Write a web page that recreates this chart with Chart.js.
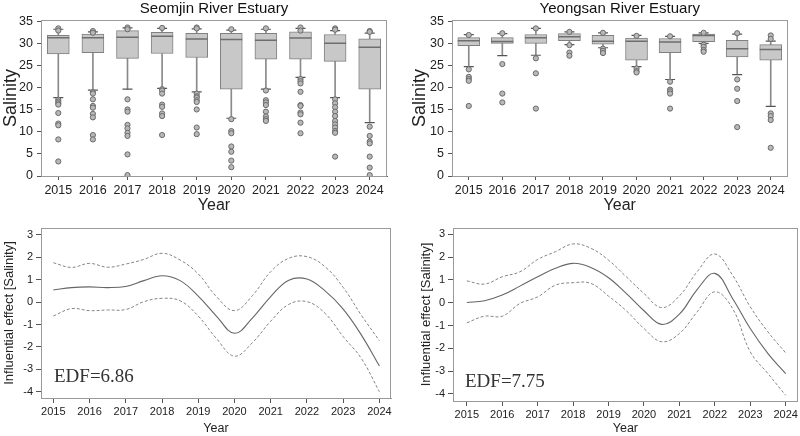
<!DOCTYPE html>
<html>
<head>
<meta charset="utf-8">
<script src="https://cdn.jsdelivr.net/npm/chart.js@4.4.1/dist/chart.umd.min.js"></script>
<style>
  body { margin: 0; background: #fff; width: 800px; height: 436px; overflow: hidden; }
  .panel { position: absolute; }
</style>
</head>
<body>
<div class="panel" style="left:0;top:0;width:400px;height:215px"><canvas id="sjBox"></canvas></div>
<div class="panel" style="left:400px;top:0;width:400px;height:215px"><canvas id="ysBox"></canvas></div>
<div class="panel" style="left:0;top:215px;width:400px;height:221px"><canvas id="sjGam"></canvas></div>
<div class="panel" style="left:400px;top:215px;width:400px;height:221px"><canvas id="ysGam"></canvas></div>
<script>
const years = ["2015", "2016", "2017", "2018", "2019", "2020", "2021", "2022", "2023", "2024"];

// Seomjin box plot stats (salinity)
const sjLow = [17.8, 19.5, 19.7, 19.9, 19.1, 13.1, 19.7, 22.4, 17.8, 12.1];
const sjQ1 = [27.7, 28.0, 26.7, 27.8, 26.9, 19.7, 26.5, 26.5, 26.0, 19.7];
const sjMed = [31.4, 31.4, 31.5, 31.7, 31.1, 31.0, 30.8, 31.3, 30.1, 29.2];
const sjQ3 = [31.9, 32.2, 33.0, 32.6, 32.4, 32.4, 32.4, 32.7, 32.1, 31.1];
const sjHigh = [33.3, 32.7, 33.6, 33.5, 33.4, 33.1, 33.3, 33.5, 33.0, 32.4];
const sjOut = [
  [33.5, 33.0, 17.3, 16.9, 16.5, 16.2, 14.3, 11.9, 11.5, 8.3, 3.3],
  [32.9, 32.5, 19.0, 18.7, 17.4, 15.9, 15.5, 14.1, 13.3, 9.3, 8.3],
  [33.7, 33.3, 17.4, 15.1, 14.6, 11.6, 10.8, 9.8, 9.1, 4.9, 0.2],
  [33.6, 19.7, 19.4, 18.7, 16.2, 15.7, 14.2, 13.6, 9.3],
  [33.7, 33.5, 18.7, 18.1, 17.8, 17.2, 16.8, 15.1, 11.0, 9.5],
  [33.3, 12.9, 10.2, 9.7, 6.7, 5.5, 3.5, 2.0],
  [33.5, 19.4, 17.2, 16.7, 16.1, 14.6, 13.5, 12.9, 12.5],
  [33.7, 33.0, 22.0, 21.5, 21.0, 19.1, 16.1, 15.9, 14.4, 14.0, 12.1, 9.7],
  [33.5, 33.2, 17.4, 16.5, 15.6, 14.6, 13.6, 12.5, 11.7, 11.0, 10.2, 9.8, 4.4],
  [32.9, 32.7, 11.2, 9.1, 7.8, 7.4, 4.4, 1.9, 0.2]
];

// Yeongsan box plot stats (salinity)
const ysLow = [24.8, 27.3, 27.4, 29.8, 29.1, 24.8, 21.9, 30.1, 23.0, 15.8];
const ysQ1 = [29.6, 30.1, 30.1, 30.7, 29.9, 26.3, 28.0, 30.5, 27.0, 26.3];
const ysMed = [30.7, 30.5, 31.4, 31.6, 30.6, 30.6, 30.4, 31.9, 28.9, 28.7];
const ysQ3 = [31.4, 31.4, 32.1, 32.3, 31.9, 31.3, 31.2, 32.2, 30.8, 29.8];
const ysHigh = [32.1, 32.3, 33.5, 32.7, 32.5, 31.9, 31.7, 32.5, 32.2, 30.6];
const ysOut = [
  [32.0, 24.2, 22.5, 22.0, 21.6, 15.9],
  [32.4, 25.4, 18.7, 16.7],
  [33.5, 26.7, 23.3, 15.3],
  [32.7, 29.7, 28.0, 27.3],
  [32.5, 28.9, 28.4, 27.9],
  [31.8, 24.4, 23.8, 23.5],
  [31.7, 21.4, 19.6, 19.2, 18.7, 15.3],
  [32.5, 29.8, 29.3, 28.6, 28.2],
  [32.4, 21.9, 19.8, 17.0, 11.1],
  [31.9, 31.1, 14.2, 13.6, 12.7, 6.4]
];

// GAM smooth, read at half-year steps
const gamX = [2015, 2015.5, 2016, 2016.5, 2017, 2017.5, 2018, 2018.5, 2019, 2019.5,
              2020, 2020.5, 2021, 2021.5, 2022, 2022.5, 2023, 2023.5, 2024];
const sjFit = [0.54, 0.65, 0.68, 0.65, 0.70, 0.96, 1.18, 0.96, 0.27, -0.62,
               -1.39, -0.70, 0.25, 0.98, 1.03, 0.50, -0.31, -1.46, -2.85];
const sjUpper = [1.76, 1.55, 1.73, 1.56, 1.70, 1.91, 2.18, 1.88, 1.26, 0.25,
                 -0.38, 0.30, 1.36, 1.96, 2.03, 1.58, 0.66, -0.58, -1.72];
const sjLower = [-0.62, -0.29, -0.38, -0.35, -0.33, 0.02, 0.17, 0.06, -0.62, -1.62,
                 -2.41, -1.80, -0.85, -0.10, 0.02, -0.50, -1.54, -2.51, -4.00];
const ysFit = [0.01, 0.09, 0.34, 0.73, 1.14, 1.51, 1.73, 1.55, 1.10, 0.41,
               -0.35, -0.95, -0.50, 0.58, 1.29, 0.19, -1.13, -2.23, -3.11];
const ysUpper = [0.96, 0.82, 1.14, 1.36, 1.90, 2.24, 2.58, 2.39, 1.87, 1.14,
                 0.41, -0.21, 0.30, 1.36, 2.14, 1.21, -0.18, -1.28, -2.20];
const ysLower = [-0.88, -0.59, -0.59, -0.03, 0.26, 0.77, 0.88, 0.85, 0.29, -0.35,
                 -1.13, -1.71, -1.35, -0.40, 0.48, -0.25, -2.15, -3.11, -4.06];
const gamTicks = [2015, 2016, 2017, 2018, 2019, 2020, 2021, 2022, 2023, 2024];

const sans = "'Liberation Sans', Arial, sans-serif";
Chart.defaults.font.family = sans;
Chart.defaults.color = "#222";

// grey box round the plot area
const frame = {
  id: "frame",
  beforeDatasetsDraw(chart, args, opts) {
    const { ctx, chartArea: a } = chart;
    ctx.save();
    ctx.strokeStyle = opts.color || "#999";
    ctx.lineWidth = 1;
    ctx.strokeRect(Math.round(a.left) + 0.5, Math.round(a.top) + 0.5,
                   Math.round(a.width) - 1, Math.round(a.height));
    ctx.restore();
  }
};

// EDF note in the lower left corner
const edfLabel = {
  id: "edfLabel",
  afterDraw(chart, args, opts) {
    if (!opts.text) return;
    const { ctx, chartArea: a } = chart;
    ctx.save();
    ctx.font = "19px 'Liberation Serif', 'DejaVu Serif', serif";
    ctx.fillStyle = "#333";
    ctx.textBaseline = "middle";
    ctx.fillText(opts.text, a.left + opts.dx, a.bottom - opts.dy);
    ctx.restore();
  }
};

function boxChart(id, title, low, q1, med, q3, high, out, padLeft, padRight, yWidth) {
  const outliers = out.flatMap((vals, i) => vals.map(v => ({ x: years[i], y: v })));
  return new Chart(document.getElementById(id), {
    type: "bar",
    data: {
      labels: years,
      datasets: [
        { data: low.map((v, i) => [v, q1[i]]), barThickness: 1, backgroundColor: "#8a8a8a", grouped: false, order: 6 },
        { data: q3.map((v, i) => [v, high[i]]), barThickness: 1, backgroundColor: "#8a8a8a", grouped: false, order: 6 },
        { data: q1.map((v, i) => [v, q3[i]]), barThickness: 22, backgroundColor: "#c8c8c8",
          borderColor: "#808080", borderWidth: 1, borderSkipped: false, grouped: false, order: 5 },
        { type: "line", data: med, showLine: false, pointStyle: "line", pointRadius: 11,
          borderColor: "#6e6e6e", borderWidth: 1.5, order: 4 },
        { type: "line", data: low, showLine: false, pointStyle: "line", pointRadius: 5,
          borderColor: "#555", borderWidth: 1.2, order: 3 },
        { type: "line", data: high, showLine: false, pointStyle: "line", pointRadius: 5,
          borderColor: "#555", borderWidth: 1.2, order: 3 },
        { type: "line", data: outliers, showLine: false, pointRadius: 2.6,
          backgroundColor: "#b8b8b8", borderColor: "#6a6a6a", borderWidth: 1, order: 1 }
      ]
    },
    options: {
      responsive: true,
      maintainAspectRatio: false,
      animation: false,
      events: [],
      layout: { padding: { left: padLeft, right: padRight, top: 0, bottom: 0 } },
      plugins: {
        legend: { display: false },
        tooltip: { enabled: false },
        title: { display: true, text: title, fullSize: false, color: "#111",
                 font: { size: 15, weight: "normal" }, padding: { top: 0, bottom: 2 } },
        frame: { color: "#9a9a9a" }
      },
      scales: {
        x: {
          offset: true,
          grid: { offset: false, drawOnChartArea: false, tickLength: 4, color: "#555" },
          border: { color: "#555" },
          ticks: { font: { size: 12.5 }, padding: 3, maxRotation: 0, autoSkip: false },
          title: { display: true, text: "Year", font: { size: 16 }, padding: { top: 0, bottom: 0 } },
          afterFit: s => { s.height = 39; }
        },
        y: {
          min: 0, max: 35.4,
          grid: { drawOnChartArea: false, tickLength: 4, color: "#555" },
          border: { color: "#555" },
          ticks: { stepSize: 5, includeBounds: false, font: { size: 12.5 }, padding: 4 },
          title: { display: true, text: "Salinity", font: { size: 18 }, padding: { top: 0, bottom: 0 } },
          afterFit: s => { s.width = yWidth; }
        }
      }
    },
    plugins: [frame]
  });
}

function gamChart(id, fit, upper, lower, edf, cfg) {
  const pts = arr => arr.map((v, i) => ({ x: gamX[i], y: v }));
  const dashed = { borderColor: "#858585", borderWidth: 1, borderDash: [3, 2], pointRadius: 0, tension: 0.4, fill: false };
  return new Chart(document.getElementById(id), {
    type: "line",
    data: {
      datasets: [
        Object.assign({ data: pts(upper) }, dashed),
        { data: pts(fit), borderColor: "#666", borderWidth: 1.1, pointRadius: 0, tension: 0.4, fill: false },
        Object.assign({ data: pts(lower) }, dashed)
      ]
    },
    options: {
      responsive: true,
      maintainAspectRatio: false,
      animation: false,
      events: [],
      layout: { padding: { left: cfg.padLeft, right: cfg.padRight, top: 13, bottom: 0 } },
      plugins: {
        legend: { display: false },
        tooltip: { enabled: false },
        frame: { color: "#9a9a9a" },
        edfLabel: { text: edf, dx: cfg.dx, dy: cfg.dy }
      },
      scales: {
        x: {
          type: "linear",
          min: cfg.xMin, max: cfg.xMax,
          afterBuildTicks: s => { s.ticks = gamTicks.map(v => ({ value: v })); },
          grid: { drawOnChartArea: false, tickLength: 5, color: "#555" },
          border: { color: "#9a9a9a" },
          ticks: { font: { size: 11 }, padding: 2, maxRotation: 0, autoSkip: false, callback: v => String(v) },
          title: { display: true, text: "Year", font: { size: 12.5 }, padding: { top: 0, bottom: 0 } },
          afterFit: s => { s.height = cfg.xHeight; }
        },
        y: {
          min: cfg.yMin, max: cfg.yMax,
          afterBuildTicks: s => { s.ticks = [-4, -3, -2, -1, 0, 1, 2, 3].map(v => ({ value: v })); },
          grid: { drawOnChartArea: false, tickLength: 5, color: "#555" },
          border: { color: "#9a9a9a" },
          ticks: { font: { size: 11 }, padding: 3 },
          title: { display: true, text: "Influential effect [Salinity]", font: { size: 13 }, padding: { top: 0, bottom: 0 } },
          afterFit: s => { s.width = cfg.yWidth; }
        }
      }
    },
    plugins: [frame, edfLabel]
  });
}

Chart.register(edfLabel);

boxChart("sjBox", "Seomjin River Estuary", sjLow, sjQ1, sjMed, sjQ3, sjHigh, sjOut, 0, 13, 41);
boxChart("ysBox", "Yeongsan River Estuary", ysLow, ysQ1, ysMed, ysQ3, ysHigh, ysOut, 9, 7, 43);

gamChart("sjGam", sjFit, sjUpper, sjLower, "EDF=6.86",
  { padLeft: 2, padRight: 9, yWidth: 39, xHeight: 38, xMin: 2014.66, xMax: 2024.32,
    yMin: -4.28, yMax: 3.31, dx: 13, dy: 21 });
gamChart("ysGam", ysFit, ysUpper, ysLower, "EDF=7.75",
  { padLeft: 19, padRight: 2, yWidth: 34, xHeight: 35, xMin: 2014.61, xMax: 2024.34,
    yMin: -4.31, yMax: 3.28, dx: 12, dy: 19 });
</script>
</body>
</html>
